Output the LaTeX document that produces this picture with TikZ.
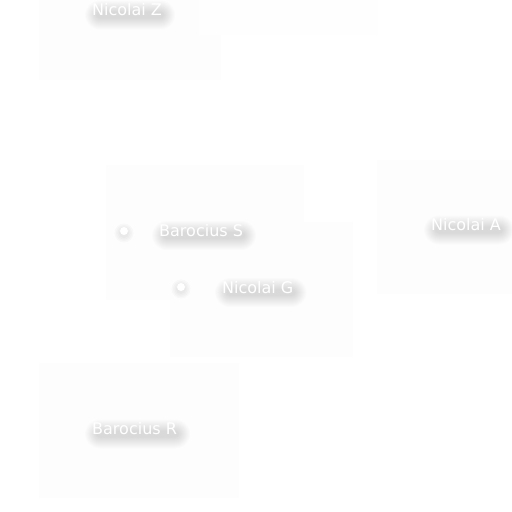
\documentclass[tikz,border=0pt]{standalone}
\usepackage{fontspec}
\setmainfont{DejaVu Sans}
\definecolor{zonec}{HTML}{FDFDFD}
\definecolor{zonelt}{HTML}{FEFEFE}
\pgfdeclarelayer{zonelayer}
\pgfdeclarelayer{shadowlayer}
\pgfsetlayers{zonelayer,shadowlayer,main}
\tikzset{
  zone/.style={fill=zonec, draw=none},
  zonelight/.style={fill=zonelt, draw=none},
  lbl/.style={anchor=base west, inner sep=0pt, text=white, font=\fontsize{16}{19}\selectfont},
  blurpart/.style={fill=black, fill opacity=0.013, draw=none},
  dotpt/.style={circle, fill=white, draw=none, inner sep=0pt, minimum size=8pt},
  dothalo/.style={circle, fill=black, fill opacity=0.018, draw=none, inner sep=0pt},
}
\newcommand\shlabel[4]{%
  \node[lbl] (#1) at (#2,#3) {#4};%
  \begin{pgfonlayer}{shadowlayer}%
  \foreach \r in {0,1,...,11}{%
    \fill[blurpart, rounded corners={\r pt+4pt}]
      ([shift={(4-\r,-4-\r)}]#1.base west) rectangle ([shift={(2+\r,3+\r)}]#1.base east);}%
  \end{pgfonlayer}%
}
\newcommand\haldot[3]{%
  \begin{pgfonlayer}{shadowlayer}%
  \foreach \r in {10,13,16,19}{\node[dothalo, minimum size=\r pt] at (#2,#3+2) {};}%
  \end{pgfonlayer}%
  \node[dotpt] (#1) at (#2,#3) {};%
}
\begin{document}
\begin{tikzpicture}[x=1pt,y=-1pt]
\useasboundingbox (0,0) rectangle (512,512);
\begin{pgfonlayer}{zonelayer}
\fill[white] (0,0) rectangle (512,512);
\fill[zone] (39,0) rectangle (221,80);
\fill[zonelight] (199,0) rectangle (378,35);
\fill[zone] (106,165) rectangle (304,300);
\fill[zone] (170,222) rectangle (353,357);
\fill[zone] (377,160) rectangle (512,294);
\fill[zone] (39,363) rectangle (239,498);
\end{pgfonlayer}
% points
\haldot{ps}{124}{231}
\haldot{pg}{181}{287}
% labels
\shlabel{nz}{92}{15.5}{Nicolai Z}
\shlabel{bs}{159}{236}{Barocius S}
\shlabel{ng}{222}{293}{Nicolai G}
\shlabel{na}{431}{230.5}{Nicolai A}
\shlabel{br}{92}{434.5}{Barocius R}
\end{tikzpicture}
\end{document}
